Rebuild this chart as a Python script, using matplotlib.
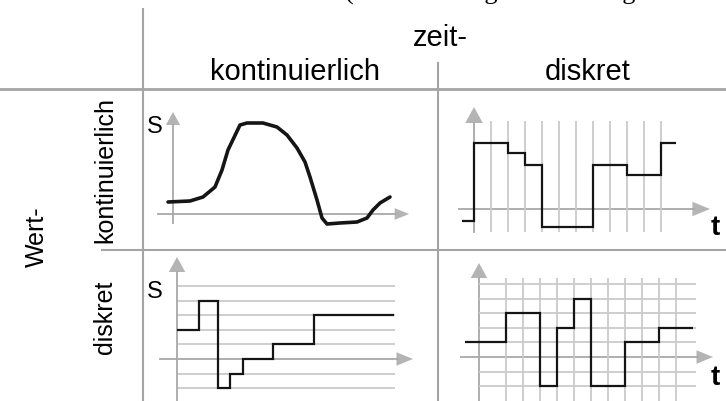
import matplotlib
matplotlib.use("Agg")
from matplotlib import pyplot as plt
from matplotlib.patches import Polygon

W, H = 726, 401

# top left: time continuous, value continuous (t, s)
cont_t = [-0.5, 1.7, 3.0, 4.2, 4.9, 5.5, 6.7, 7.4, 9.0, 10.4, 11.4, 12.4,
          13.2, 13.7, 14.4, 14.9, 15.4, 16.7, 18.4, 19.4, 20.0, 20.7, 21.7]
cont_s = [1.2, 1.3, 1.7, 2.7, 4.4, 6.4, 8.9, 9.1, 9.1, 8.7, 7.9, 6.6,
          5.2, 3.7, 1.4, -0.4, -1.0, -0.9, -0.8, -0.4, 0.4, 1.1, 1.7]

# top right: time discrete, value continuous
samp_edges = [-0.7, 0, 2, 3, 4, 7, 9, 11, 11.9]
samp_values = [-1.2, 6.6, 5.6, 4.4, -1.8, 4.4, 3.4, 6.6]
samp_ticks = list(range(1, 12))

# bottom left: time continuous, value discrete
quant_edges = [0, 2.2, 4.1, 5.3, 6.6, 9.6, 13.7, 21.7]
quant_levels = [2, 4, -2, -1, 0, 1, 3]
level_lines = [-2, -1, 1, 2, 3, 4, 5]

# bottom right: both discrete
dig_edges = [-2.4, 0, 2, 3, 4, 5, 7, 9, 11]
dig_levels = [1, 3, -2, 2, 4, -2, 1, 2]
dig_ticks = list(range(0, 11))

col_labels = ["kontinuierlich", "diskret"]
row_labels = ["kontinuierlich", "diskret"]

FRAME = "#a4a4a4"
AXIS = "#a8a8a8"
GRID = "#cacaca"
HEAD = "#b4b4b4"
SIG = "#151515"

fig = plt.figure(figsize=(W / 100, H / 100), dpi=100)
base = fig.add_axes([0, 0, 1, 1])
base.set_xlim(0, W)
base.set_ylim(H, 0)
base.axis("off")


def panel(ox, oy, sx, sy):
    ax = fig.add_axes([0, 0, 1, 1])
    ax.set_xlim(-ox / sx, (W - ox) / sx)
    ax.set_ylim((oy - H) / sy, oy / sy)
    ax.axis("off")
    ax.patch.set_alpha(0)
    return ax


def axes_cross(x0, y0, ybot, ytip, xleft, xtip, head=16):
    base.plot([x0, x0], [ybot, ytip + head], color=AXIS, lw=1.3)
    base.plot([xleft, xtip - head], [y0, y0], color=AXIS, lw=1.3)
    base.add_patch(Polygon([(x0 - head * 0.55, ytip + head), (x0 + head * 0.55, ytip + head),
                            (x0, ytip)], closed=True, color=HEAD, lw=0))
    base.add_patch(Polygon([(xtip - head * 1.1, y0 - head * 0.45), (xtip - head * 1.1, y0 + head * 0.45),
                            (xtip, y0)], closed=True, color=HEAD, lw=0))


# table frame
base.plot([143, 143], [9, H], color=FRAME, lw=1.5)
base.plot([438, 438], [63, H], color=FRAME, lw=1.5)
base.plot([0, W], [89, 89], color=FRAME, lw=2)
base.plot([102, W], [250, 250], color=FRAME, lw=1.5)

# line of body text above the figure, cut off by the page edge
base.text(345, 0, "(Zeitabtastung und Haltung", family="Liberation Serif",
          fontsize=19, va="baseline", ha="left", color="black")

base.text(440, 46, "zeit-", family="Liberation Sans", fontsize=21, ha="center", va="baseline")
base.text(295, 80, col_labels[0], family="Liberation Sans", fontsize=21, ha="center", va="baseline")
base.text(588, 80, col_labels[1], family="Liberation Sans", fontsize=21, ha="center", va="baseline")
base.text(37, 237, "Wert-", family="Liberation Sans", fontsize=18, rotation=90, ha="center", va="center")
base.text(105, 170, row_labels[0], family="Liberation Sans", fontsize=18, rotation=90, ha="center", va="center")
base.text(105, 317, row_labels[1], family="Liberation Sans", fontsize=18, rotation=90, ha="center", va="center")

# panel 1
axes_cross(173, 214, 223, 112, 158, 409, head=13)
base.text(155, 127, "S", family="Liberation Sans", fontsize=17, ha="center", va="center")
p1 = panel(173, 214, 10, 10)
p1.plot(cont_t, cont_s, color=SIG, lw=2.6, solid_capstyle="round", solid_joinstyle="round")

# panel 2
p2 = panel(474, 209, 17, 10)
p2.vlines(samp_ticks, -2.3, 8.8, color=GRID, lw=1.3, zorder=1)
axes_cross(474, 209, 232, 107, 459, 710, head=16)
p2.stairs(samp_values, samp_edges, baseline=None, color=SIG, lw=1.6, zorder=3)
base.text(715, 228, "t", family="Liberation Sans", fontsize=20, fontweight="bold", ha="center", va="center")

# panel 3
p3 = panel(177, 359, 10, 14.6)
p3.hlines(level_lines, 0.1, 21.8, color=GRID, lw=1.3, zorder=1)
axes_cross(177, 359, H, 257, 160, 413, head=15)
base.text(155, 292, "S", family="Liberation Sans", fontsize=17, ha="center", va="center")
p3.stairs(quant_levels, quant_edges, baseline=None, color=SIG, lw=1.6, zorder=3)

# panel 4
p4 = panel(506, 357, 17, 14.6)
p4.hlines(level_lines, -1.6, 11.2, color=GRID, lw=1.3, zorder=1)
p4.vlines(dig_ticks, -3.0, 5.4, color=GRID, lw=1.3, zorder=1)
axes_cross(479, 357, H, 263, 461, 713, head=15)
p4.stairs(dig_levels, dig_edges, baseline=None, color=SIG, lw=1.6, zorder=3)
base.text(715, 378, "t", family="Liberation Sans", fontsize=20, fontweight="bold", ha="center", va="center")

fig.savefig("out.png", dpi=100)
